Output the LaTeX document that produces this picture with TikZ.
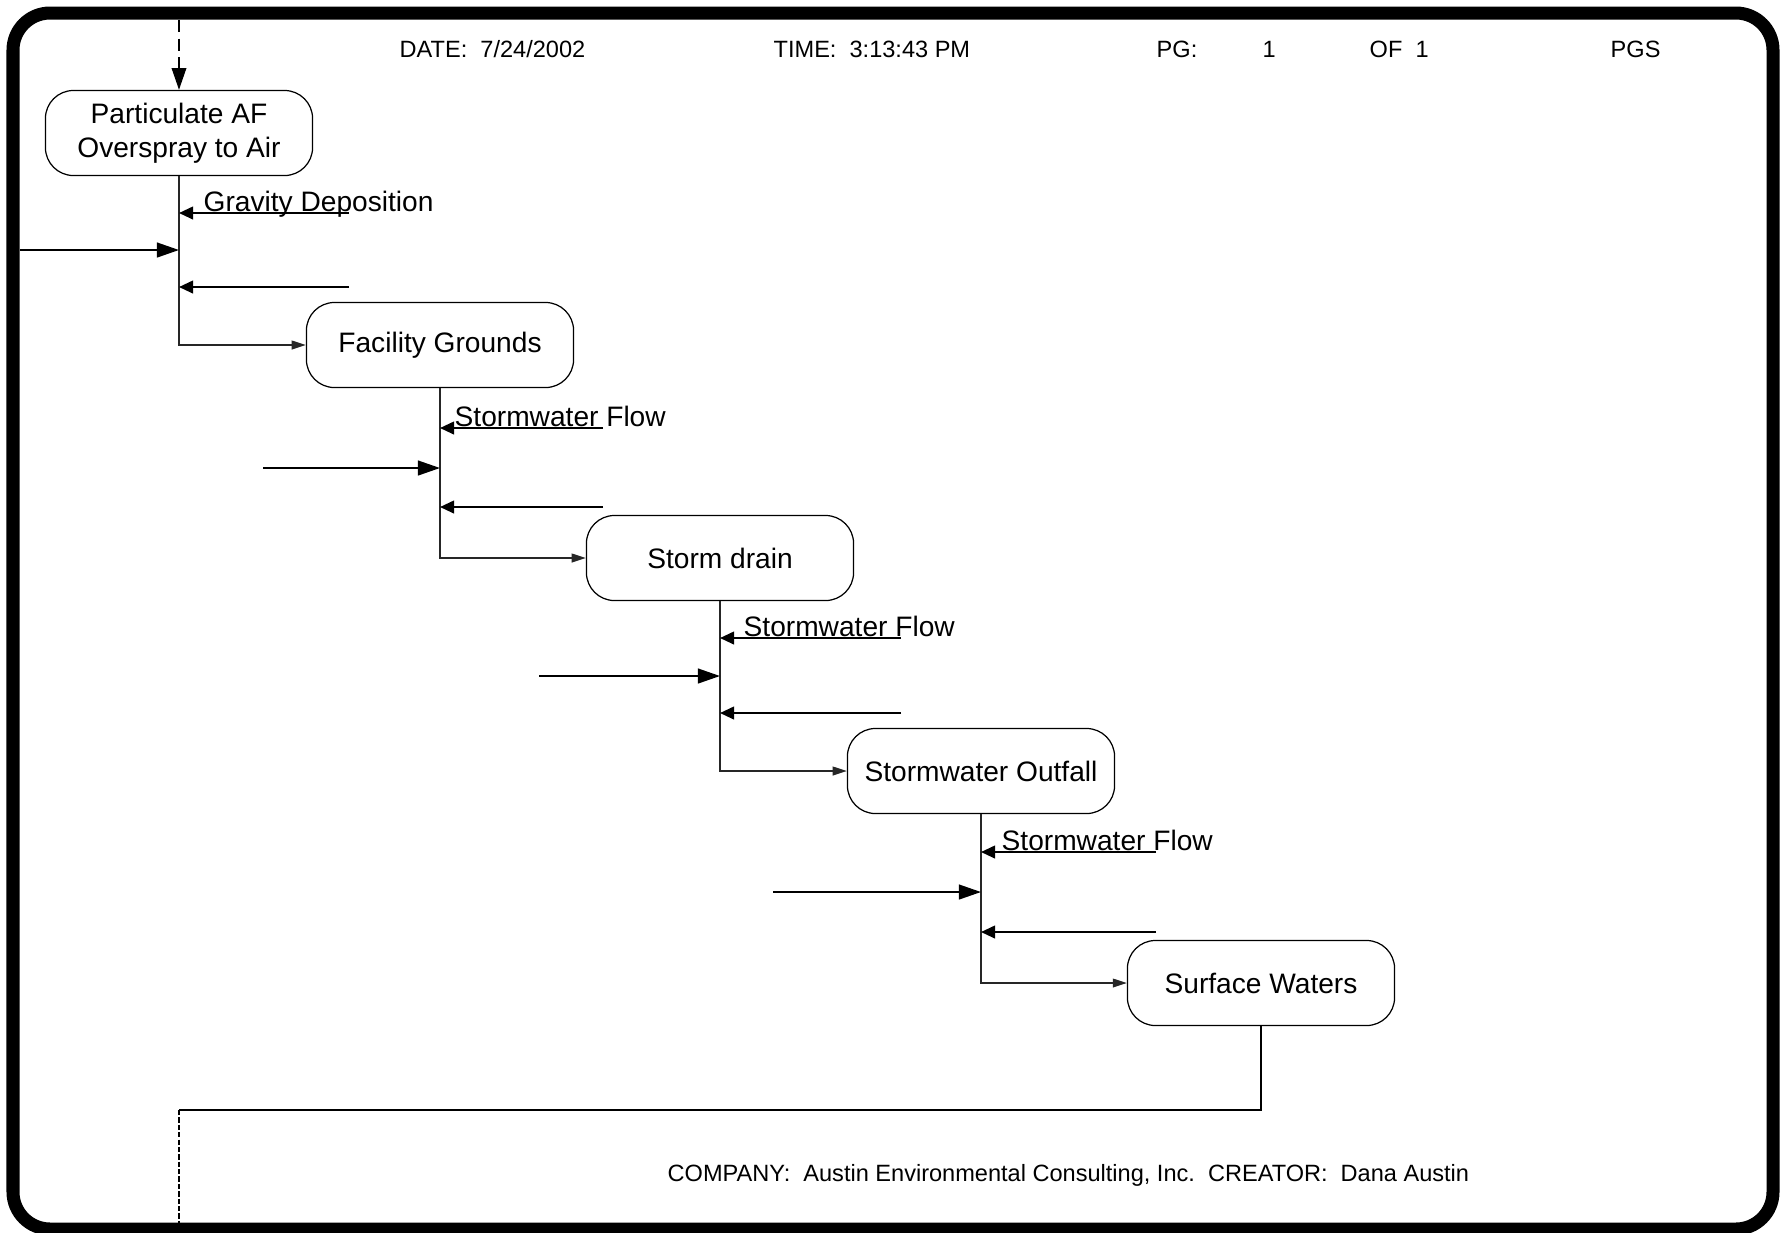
\documentclass[tikz,border=0pt]{standalone}
\usepackage{fontspec}
\setmainfont{Liberation Sans}
\usetikzlibrary{arrows.meta,shapes}
\newcommand{\boxfont}{\fontsize{8}{9.7}\selectfont}
\newcommand{\headfont}{\fontsize{6.7}{8}\selectfont}
\tikzstyle{state}=[rectangle,rounded corners=0.28cm,draw,line width=0.35pt,minimum width=2.67cm,minimum height=0.85cm,inner sep=0pt,align=center,font=\boxfont]
\tikzstyle{conn}=[draw,black!85,line width=0.4pt,-{Triangle[length=4pt,width=2.5pt]}]
\tikzstyle{arr}=[draw,line width=0.6pt,-{Triangle[length=4pt,width=3.6pt]}]
\tikzstyle{feed}=[draw,line width=0.6pt,-{Triangle[length=6.3pt,width=4.2pt]}]
\tikzstyle{weight}=[font=\boxfont,anchor=base west,inner sep=0pt]
\tikzstyle{head}=[font=\headfont,anchor=base west,inner sep=0pt]

\begin{document}
\begin{tikzpicture}[x=0.01cm,y=-0.01cm]
    \useasboundingbox (0,0) rectangle (1781,1232);
    \draw[line width=0.13cm,rounded corners=0.37cm] (13,13) rectangle (1773,1229);
    % header and footer
    \foreach \x/\txt in {399/{DATE:\ \ 7/24/2002}, 773/{TIME:\ \ 3:13:43 PM},
    1156/{PG:}, 1262/{1}, 1369/{OF\ \ 1}, 1610/{PGS}}
        \node[head] (h\x) at (\x,57) {\txt};
    \node[head] (footer) at (667,1181) {COMPANY:\ \ Austin Environmental Consulting, Inc.\ \ CREATOR:\ \ Dana Austin};
    % boxes
    \foreach \pos/\name/\val in {{(179,133)/air/Particulate AF\\Overspray to Air},
    {(440,345)/grounds/Facility Grounds}, {(720,558)/drain/Storm drain},
    {(981,771)/outfall/Stormwater Outfall}, {(1261,983)/surface/Surface Waters}}
        \node[state] (\name) at \pos {\val};
    % flows between boxes
    \foreach \src/\dst/\ya/\yb/\yc/\xl/\xr/\dx/\lab in {air/grounds/213/250/287/20/349/24/Gravity Deposition,
    grounds/drain/428/468/507/263/603/14/Stormwater Flow, drain/outfall/638/676/713/539/901/23/Stormwater Flow,
    outfall/surface/852/892/932/773/1156/20/Stormwater Flow}
    {
        \path[conn] (\src.south) |- (\dst.west);
        \coordinate (\src-r1) at (\xr,\ya);
        \coordinate (\src-l) at (\xl,\yb);
        \coordinate (\src-r3) at (\xr,\yc);
        \path[arr] (\src-r1) -- (\src.south |- \src-r1);
        \path[feed] (\src-l) -- (\src.south |- \src-l);
        \path[arr] (\src-r3) -- (\src.south |- \src-r3);
        \node[weight,xshift=\dx*0.01cm,yshift=0.018cm] (\src-lab) at (\src.south |- \src-r1) {\lab};
    }
    % in and out of the page
    \coordinate (top) at (air.north |- 0,20);
    \coordinate (back) at (air.south |- 0,1110);
    \coordinate (exit) at (air.south |- 0,1229);
    \path[draw,line width=0.6pt,dash pattern=on 3.5pt off 1.8pt,-{Triangle[length=6.2pt,width=4.1pt]}] (top) -- (air.north);
    \draw[line width=0.5pt] (surface.south) |- (back);
    \draw[line width=0.35pt,dash pattern=on 1.5pt off 0.6pt] (back) -- (exit);
\end{tikzpicture}
\end{document}
